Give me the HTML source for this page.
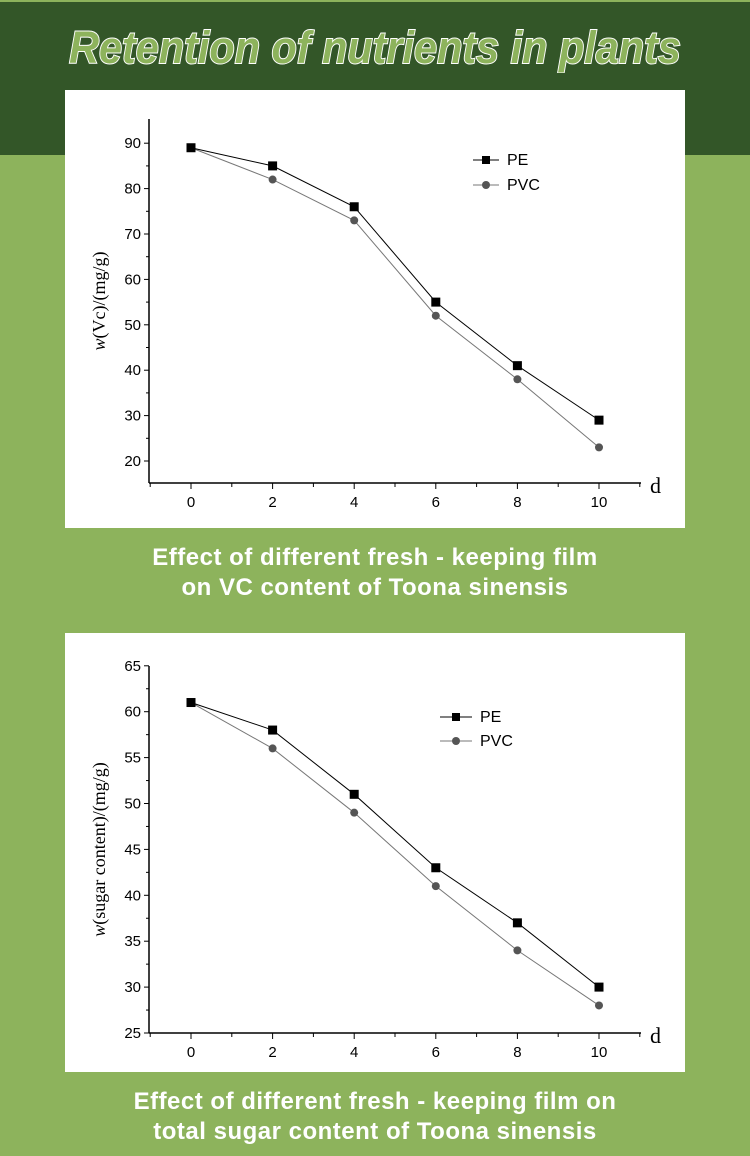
<!DOCTYPE html>
<html><head><meta charset="utf-8"><style>
body{margin:0;width:750px;height:1156px;background:#8db35c;position:relative;overflow:hidden;font-family:"Liberation Sans",sans-serif}
#top{position:absolute;left:0;top:0;width:750px;height:155px;background:#335628;border-top:2px solid #8db35c;box-sizing:border-box}
#title{position:absolute;left:0;width:750px;top:22px;text-align:center;font-size:45px;font-weight:bold;font-style:italic;color:#8db35c;-webkit-text-stroke:2px #fff;paint-order:stroke fill;letter-spacing:0px;transform:scaleX(0.92)}
.panel{position:absolute;left:65px;width:620px;background:#fff}
.cap{position:absolute;left:0;width:750px;text-align:center;color:#fff;font-weight:bold;font-size:24px;line-height:30px;letter-spacing:0.5px}
</style></head><body>
<div id="top"></div>
<div id="title">Retention of nutrients in plants</div>
<div class="panel" style="top:90px;height:438px"><svg id="c1" width="620" height="438"></svg></div>
<div class="cap" style="top:543px">Effect of different fresh - keeping film<br>on VC content of Toona sinensis</div>
<div class="panel" style="top:633px;height:439px"><svg id="c2" width="620" height="439"></svg></div>
<div class="cap" style="top:1087px">Effect of different fresh - keeping film on<br>total sugar content of Toona sinensis</div>
<script>
const days=[0,2,4,6,8,10];
const vcPE=[89,85,76,55,41,29];
const vcPVC=[89,82,73,52,38,23];
const vcTicks=[20,30,40,50,60,70,80,90];
const sugarPE=[61,58,51,43,37,30];
const sugarPVC=[61,56,49,41,34,28];
const sugarTicks=[25,30,35,40,45,50,55,60,65];
const NS="http://www.w3.org/2000/svg";
function mk(p,t,a){const e=document.createElementNS(NS,t);for(const k in a)e.setAttribute(k,a[k]);p.appendChild(e);return e;}
function chart(id,cfg){
  const s=document.getElementById(id);
  const ax=84, yTop=cfg.yTop, yBot=cfg.yBot;
  const xs=d=>126+d*40.8;
  const ys=v=>cfg.y0px-(v-cfg.ymin)*cfg.pxPer;
  let e=mk(s,'line',{x1:ax,y1:yTop,x2:ax,y2:yBot,stroke:'#000','stroke-width':1.5});
  
  e=mk(s,'line',{x1:ax,y1:yBot,x2:576,y2:yBot,stroke:'#000','stroke-width':1.5});
  
  cfg.ticks.forEach((v,i)=>{
    const y=ys(v);
    mk(s,'line',{x1:ax-5,y1:y,x2:ax,y2:y,stroke:'#000'});
    if(i<cfg.ticks.length-1){const ym=ys(v+(cfg.ticks[1]-cfg.ticks[0])/2);mk(s,'line',{x1:ax-3,y1:ym,x2:ax,y2:ym,stroke:'#000'});}
    const t=mk(s,'text',{x:ax-8,y:y+5,'text-anchor':'end','font-size':15,style:'font-family:"Liberation Sans",sans-serif'});t.textContent=v;
    
  });
  for(let d=-1;d<=11;d++){const x=xs(d);mk(s,'line',{x1:x,y1:yBot,x2:x,y2:yBot+(d%2?4:6),stroke:'#000'});}
  days.forEach(d=>{const t=mk(s,'text',{x:xs(d),y:yBot+24,'text-anchor':'middle','font-size':15,style:'font-family:"Liberation Sans",sans-serif'});t.textContent=d;
    });
  let t=mk(s,'text',{x:585,y:yBot+10,'font-size':22,style:'font-family:"Liberation Serif",serif'});t.textContent='d';
  
  const cy=(yTop+yBot)/2;
  t=mk(s,'text',{x:0,y:0,'font-size':18,'text-anchor':'middle',style:'font-family:"Liberation Serif",serif',transform:`translate(${cfg.titleX},${cy}) rotate(-90)`});
  t.innerHTML='<tspan font-style="italic">w</tspan>'+cfg.title;
  
  const series=[[cfg.pvc,'#777','circle','pvc'],[cfg.pe,'#000','square','pe']];
  series.forEach(([vals,col,shape,nm])=>{
    const pl=mk(s,'polyline',{points:vals.map((v,i)=>xs(days[i])+','+ys(v)).join(' '),fill:'none',stroke:col,'stroke-width':1});
    
    vals.forEach((v,i)=>{
      const x=xs(days[i]),y=ys(v);let m;
      if(shape==='square')m=mk(s,'rect',{x:x-4.5,y:y-4.5,width:9,height:9,fill:'#000'});
      else m=mk(s,'circle',{cx:x,cy:y,r:4,fill:'#555'});
      
    });
  });
  const L=cfg.leg;
  [['PE',L.y1,'#000','square'],['PVC',L.y2,'#777','circle']].forEach(([lab,y,col,sh])=>{
    mk(s,'line',{x1:L.x,y1:y,x2:L.x+L.w,y2:y,stroke:col});
    if(sh==='square')mk(s,'rect',{x:L.x+L.w/2-4,y:y-4,width:8,height:8,fill:'#000'});
    else mk(s,'circle',{cx:L.x+L.w/2,cy:y,r:4,fill:'#555'});
    const tt=mk(s,'text',{x:L.x+L.w+8,y:y+5,'font-size':16,style:'font-family:"Liberation Sans",sans-serif'});tt.textContent=lab;
    
  });
}
chart('c1',{pe:vcPE,pvc:vcPVC,ticks:vcTicks,ymin:20,y0px:371,pxPer:4.54,yTop:29,yBot:393,title:'(Vc)/(mg/g)',titleX:40,leg:{x:408,w:26,y1:70,y2:95}});
chart('c2',{pe:sugarPE,pvc:sugarPVC,ticks:sugarTicks,ymin:25,y0px:400,pxPer:9.18,yTop:33,yBot:400,title:'(sugar content)/(mg/g)',titleX:40,leg:{x:375,w:32,y1:84,y2:108}});
</script>
</body></html>
